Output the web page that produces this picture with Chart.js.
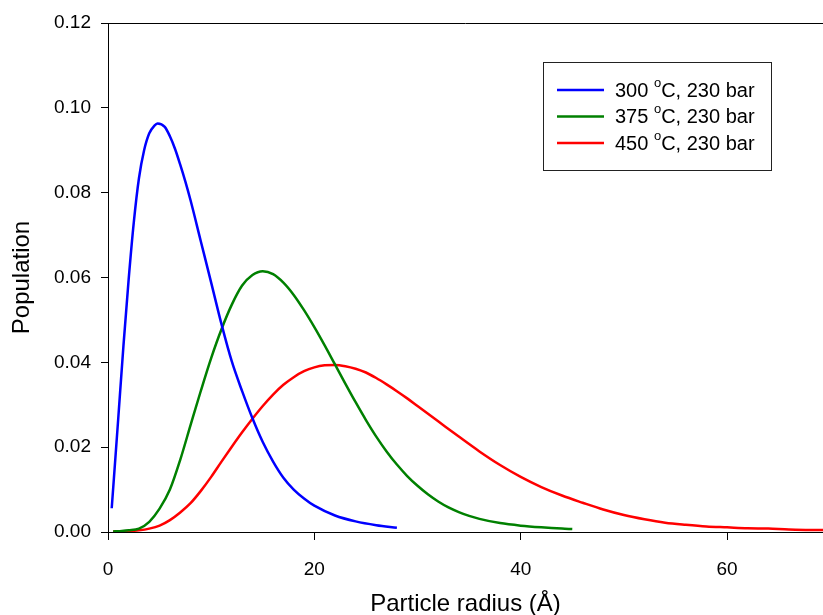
<!DOCTYPE html>
<html>
<head>
<meta charset="utf-8">
<script src="https://cdn.jsdelivr.net/npm/chart.js@4"></script>
<style>
  html, body { margin: 0; padding: 0; background: #fff; }
  #wrap { width: 823px; height: 615px; }
</style>
</head>
<body>
<div id="wrap"><canvas id="chart"></canvas></div>
<script>
// 300 °C curve
const radius300 = [0.36, 1, 1.5, 2, 2.5, 3, 3.5, 4, 4.5, 4.8, 5.5, 6, 6.5, 7, 7.5, 8, 9, 10, 11, 12, 13, 14, 15, 16, 17, 18, 19, 20, 22, 24, 26, 28];
const pop300 = [0.0056, 0.027, 0.044, 0.0595, 0.0730, 0.0834, 0.0900, 0.0940, 0.0958, 0.0963, 0.0955, 0.0933, 0.0903, 0.0866, 0.0826, 0.0782, 0.0685, 0.0588, 0.0490, 0.0402, 0.0332, 0.0268, 0.0212, 0.0166, 0.0128, 0.0100, 0.0079, 0.0062, 0.0039, 0.0025, 0.0016, 0.0010];

// 375 °C curve
const radius375 = [0.5, 1, 2, 3, 4, 5, 6, 7, 8, 9, 10, 11, 12, 13, 14, 15, 16, 17, 18, 19, 20, 21, 22, 23, 24, 25, 26, 27, 28, 29, 30, 31, 32, 33, 34, 35, 36, 38, 40, 42, 44, 45];
const pop375 = [0.0001, 0.0002, 0.0004, 0.0008, 0.0024, 0.0055, 0.0100, 0.0170, 0.0252, 0.0333, 0.0410, 0.0478, 0.0536, 0.0581, 0.0606, 0.0615, 0.0608, 0.0588, 0.0559, 0.0523, 0.0483, 0.0440, 0.0395, 0.0350, 0.0306, 0.0264, 0.0225, 0.0190, 0.0159, 0.0132, 0.0109, 0.0089, 0.0072, 0.0058, 0.0047, 0.0038, 0.0031, 0.0021, 0.0015, 0.0011, 0.0008, 0.0007];

// 450 °C curve
const radius450 = [0.5, 1, 2, 3, 4, 5, 6, 7, 8, 9, 10, 11, 12, 13, 14, 15, 16, 17, 18, 19, 20, 21, 22, 23, 24, 25, 26, 27, 28, 29, 30, 32, 34, 36, 38, 40, 42, 44, 46, 48, 50, 52, 54, 56, 58, 60, 62, 64, 66, 68, 70];
const pop450 = [0.0001, 0.0001, 0.0002, 0.0004, 0.0008, 0.0015, 0.0028, 0.0046, 0.0068, 0.0097, 0.0130, 0.0166, 0.0201, 0.0235, 0.0267, 0.0297, 0.0324, 0.0347, 0.0365, 0.0379, 0.0388, 0.0393, 0.0394, 0.0391, 0.0385, 0.0376, 0.0363, 0.0348, 0.0332, 0.0315, 0.0297, 0.0261, 0.0225, 0.0190, 0.0158, 0.0130, 0.0106, 0.0086, 0.0069, 0.0053, 0.0040, 0.0030, 0.0022, 0.0017, 0.0013, 0.0011, 0.0009, 0.0008, 0.0006, 0.0005, 0.0005];

const seriesLabels = ['300 ᵒC, 230 bar', '375 ᵒC, 230 bar', '450 ᵒC, 230 bar'];
const seriesColors = ['#0000ff', '#008000', '#ff0000'];
const xTicks = [0, 20, 40, 60];

const FONT = "'Liberation Sans', Arial, sans-serif";

const toPoints = (xs, ys) => xs.map((x, i) => ({ x: x, y: ys[i] }));

// top frame line
const frameTop = {
  id: 'frameTop',
  afterDraw(chart) {
    const { ctx, chartArea } = chart;
    ctx.save();
    ctx.strokeStyle = '#000';
    ctx.lineWidth = 1;
    ctx.beginPath();
    ctx.moveTo(chartArea.left, chartArea.top + 0.5);
    ctx.lineTo(chartArea.right, chartArea.top + 0.5);
    ctx.stroke();
    ctx.restore();
  }
};

// boxed legend inside the plot, with superscript "o"
const boxLegend = {
  id: 'boxLegend',
  afterDraw(chart) {
    const { ctx, chartArea } = chart;
    const left = chartArea.right - 280;
    const top = chartArea.top + 39;
    ctx.save();
    ctx.fillStyle = '#fff';
    ctx.fillRect(left, top, 228, 108);
    ctx.strokeStyle = '#222';
    ctx.lineWidth = 1;
    ctx.strokeRect(left + 0.5, top + 0.5, 228, 108);
    chart.data.datasets.forEach((ds, i) => {
      const y = top + 28 + i * 26.5;
      ctx.strokeStyle = ds.borderColor;
      ctx.lineWidth = 2.5;
      ctx.beginPath();
      ctx.moveTo(left + 14, y);
      ctx.lineTo(left + 61, y);
      ctx.stroke();
      ctx.fillStyle = '#000';
      ctx.textBaseline = 'middle';
      let x = left + 72;
      const parts = ds.label.split('ᵒ');
      ctx.font = '20px ' + FONT;
      ctx.fillText(parts[0], x, y + 1);
      x += ctx.measureText(parts[0]).width;
      ctx.font = '13px ' + FONT;
      ctx.fillText('o', x, y - 7);
      x += ctx.measureText('o').width;
      ctx.font = '20px ' + FONT;
      ctx.fillText(parts[1], x, y + 1);
    });
    ctx.restore();
  }
};

new Chart(document.getElementById('chart').getContext('2d'), {
  type: 'line',
  data: {
    datasets: [
      { label: seriesLabels[0], data: toPoints(radius300, pop300) },
      { label: seriesLabels[1], data: toPoints(radius375, pop375) },
      { label: seriesLabels[2], data: toPoints(radius450, pop450) }
    ].map((ds, i) => Object.assign(ds, {
      borderColor: seriesColors[i],
      backgroundColor: seriesColors[i],
      borderWidth: 2.5,
      pointRadius: 0,
      fill: false,
      cubicInterpolationMode: 'monotone'
    }))
  },
  options: {
    responsive: true,
    maintainAspectRatio: false,
    animation: false,
    layout: { padding: { top: 23, right: 0, left: 0, bottom: 0 } },
    plugins: {
      legend: { display: false },
      tooltip: { enabled: false }
    },
    scales: {
      x: {
        type: 'linear',
        min: 0,
        max: 69.3,
        afterBuildTicks: (scale) => { scale.ticks = xTicks.map(v => ({ value: v })); },
        afterFit: (scale) => { scale.height = 83; },
        grid: { drawOnChartArea: false, drawTicks: true, tickLength: 8, tickColor: '#000' },
        border: { color: '#000', width: 1 },
        ticks: { color: '#000', font: { family: FONT, size: 19 }, padding: 18, maxRotation: 0 },
        title: { display: true, text: 'Particle radius (Å)', color: '#000', font: { family: FONT, size: 24 }, padding: { top: 0, bottom: -4 } }
      },
      y: {
        min: 0,
        max: 0.12,
        afterFit: (scale) => { scale.width = 108; },
        grid: { drawOnChartArea: false, drawTicks: true, tickLength: 7, tickColor: '#000' },
        border: { color: '#000', width: 1 },
        ticks: { stepSize: 0.02, color: '#000', font: { family: FONT, size: 19 }, padding: 10, callback: (v) => v.toFixed(2) },
        title: { display: true, text: 'Population', color: '#000', font: { family: FONT, size: 24 }, padding: { top: 8, bottom: 0 } }
      }
    }
  },
  plugins: [frameTop, boxLegend]
});
</script>
</body>
</html>
